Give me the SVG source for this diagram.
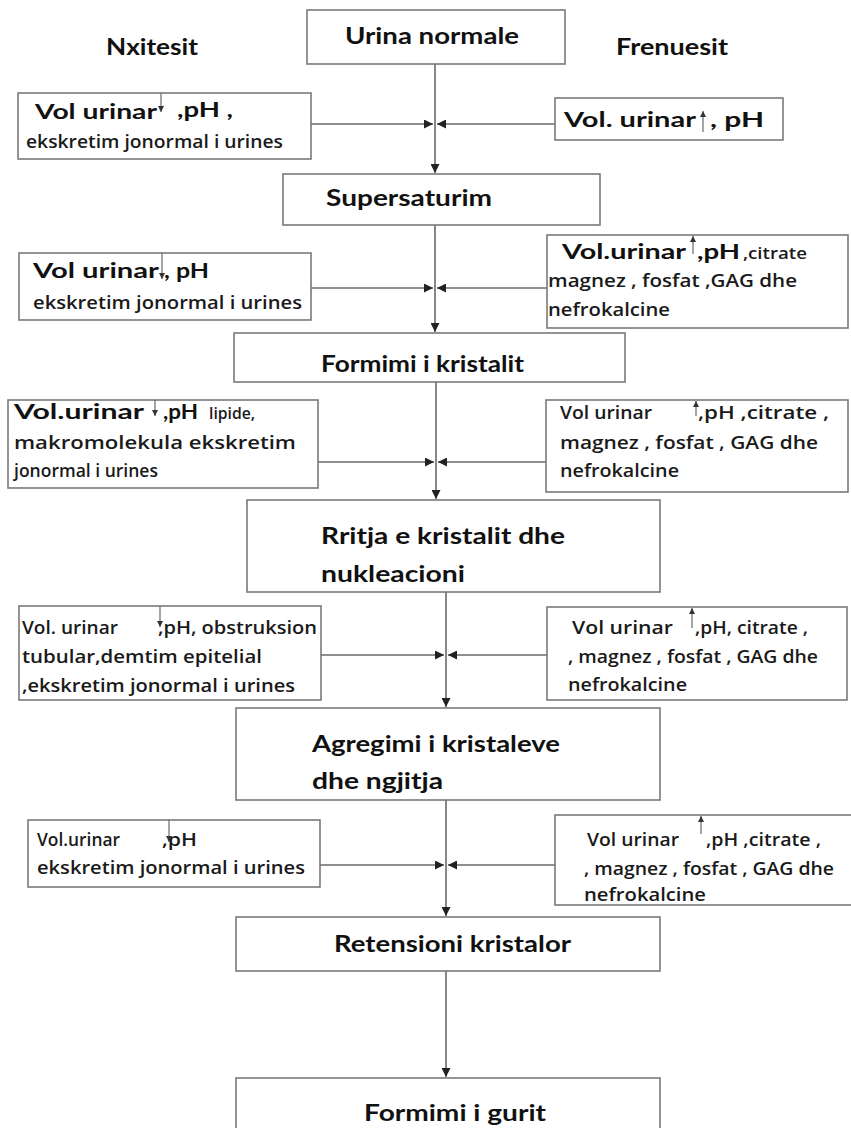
<svg xmlns="http://www.w3.org/2000/svg" width="851" height="1128" viewBox="0 0 851 1128">
<style>
.box{fill:#fff;stroke:#7a7a7a;stroke-width:1.6}
.h{font-family:Lato,"Open Sans","Liberation Sans",sans-serif;font-weight:bold;font-size:22px;fill:#111}
.b{font-family:Lato,"Open Sans","Liberation Sans",sans-serif;font-weight:bold;font-size:21px;fill:#111}
.t{font-family:"Open Sans",Lato,"Liberation Sans",sans-serif;font-weight:600;font-size:18px;fill:#1a1a1a}
.s{font-family:"Open Sans",Lato,"Liberation Sans",sans-serif;font-weight:600;font-size:16px;fill:#1a1a1a}
.ln{stroke:#6a6a6a;stroke-width:1.6;fill:none}
.sm{stroke:#6a6a6a;stroke-width:1.2;fill:none}
</style>
<defs>
<marker id="ah" viewBox="0 0 10 10" refX="10" refY="5" markerWidth="9" markerHeight="9" markerUnits="userSpaceOnUse" orient="auto"><path d="M0,0 L10,5 L0,10 z" fill="#222"/></marker>
<marker id="as" viewBox="0 0 10 10" refX="10" refY="5" markerWidth="6" markerHeight="6" markerUnits="userSpaceOnUse" orient="auto"><path d="M0,0 L10,5 L0,10 z" fill="#333"/></marker>
</defs>

<text class="h" x="106" y="55" textLength="92" lengthAdjust="spacingAndGlyphs">Nxitesit</text>
<text class="h" x="616" y="55" textLength="112" lengthAdjust="spacingAndGlyphs">Frenuesit</text>

<g id="connectors">
<line class="ln" x1="435" y1="64" x2="435" y2="173" marker-end="url(#ah)"/>
<line class="ln" x1="311" y1="124" x2="433" y2="124" marker-end="url(#ah)"/>
<line class="ln" x1="555" y1="124" x2="437" y2="124" marker-end="url(#ah)"/>
<line class="ln" x1="435" y1="225" x2="435" y2="332" marker-end="url(#ah)"/>
<line class="ln" x1="311" y1="288" x2="433" y2="288" marker-end="url(#ah)"/>
<line class="ln" x1="547" y1="288" x2="437" y2="288" marker-end="url(#ah)"/>
<line class="ln" x1="436" y1="382" x2="436" y2="499" marker-end="url(#ah)"/>
<line class="ln" x1="318" y1="462" x2="434" y2="462" marker-end="url(#ah)"/>
<line class="ln" x1="546" y1="462" x2="438" y2="462" marker-end="url(#ah)"/>
<line class="ln" x1="446" y1="592" x2="446" y2="707" marker-end="url(#ah)"/>
<line class="ln" x1="321" y1="655" x2="444" y2="655" marker-end="url(#ah)"/>
<line class="ln" x1="547" y1="655" x2="448" y2="655" marker-end="url(#ah)"/>
<line class="ln" x1="446" y1="800" x2="446" y2="916" marker-end="url(#ah)"/>
<line class="ln" x1="320" y1="865" x2="444" y2="865" marker-end="url(#ah)"/>
<line class="ln" x1="555" y1="865" x2="448" y2="865" marker-end="url(#ah)"/>
<line class="ln" x1="446" y1="971" x2="446" y2="1077" marker-end="url(#ah)"/>
</g>

<g id="urina">
<rect class="box" x="307" y="10" width="258" height="54"/>
<text class="h" x="345" y="44" textLength="174" lengthAdjust="spacingAndGlyphs">Urina normale</text>
</g>

<g id="nx1">
<rect class="box" x="18" y="93" width="293" height="66"/>
<text class="b" y="119"><tspan x="35" textLength="122" lengthAdjust="spacingAndGlyphs">Vol urinar</tspan><tspan x="177" y="117" textLength="56" lengthAdjust="spacingAndGlyphs">,pH ,</tspan></text>
<line class="sm" x1="161" y1="93" x2="161" y2="112" marker-end="url(#as)"/>
<text class="t" x="26" y="148" textLength="257" lengthAdjust="spacingAndGlyphs">ekskretim jonormal i urines</text>
</g>

<g id="fr1">
<rect class="box" x="555" y="98" width="228" height="42"/>
<text class="b" y="127"><tspan x="564" textLength="132" lengthAdjust="spacingAndGlyphs">Vol. urinar</tspan><tspan x="710" textLength="54" lengthAdjust="spacingAndGlyphs">, pH</tspan></text>
<line class="sm" x1="703" y1="132" x2="703" y2="111" marker-end="url(#as)"/>
</g>

<g id="supersaturim">
<rect class="box" x="283" y="174" width="317" height="51"/>
<text class="h" x="326" y="206" textLength="166" lengthAdjust="spacingAndGlyphs">Supersaturim</text>
</g>

<g id="nx2">
<rect class="box" x="19" y="253" width="292" height="67"/>
<text class="b" y="278"><tspan x="33" textLength="126" lengthAdjust="spacingAndGlyphs">Vol urinar</tspan><tspan x="164" textLength="45" lengthAdjust="spacingAndGlyphs">, pH</tspan></text>
<line class="sm" x1="162" y1="253" x2="162" y2="279" marker-end="url(#as)"/>
<text class="t" x="33" y="309" textLength="269" lengthAdjust="spacingAndGlyphs">ekskretim jonormal i urines</text>
</g>

<g id="fr2">
<rect class="box" x="547" y="235" width="301" height="93"/>
<text class="b" y="259"><tspan x="562" textLength="124" lengthAdjust="spacingAndGlyphs">Vol.urinar</tspan><tspan x="697" textLength="43" lengthAdjust="spacingAndGlyphs">,pH</tspan></text>
<text class="s" x="743" y="259" textLength="64" lengthAdjust="spacingAndGlyphs">,citrate</text>
<line class="sm" x1="693" y1="254" x2="693" y2="236" marker-end="url(#as)"/>
<text class="t" x="548" y="287" textLength="249" lengthAdjust="spacingAndGlyphs">magnez , fosfat ,GAG dhe</text>
<text class="t" x="548" y="316" textLength="122" lengthAdjust="spacingAndGlyphs">nefrokalcine</text>
</g>

<g id="formimi-kristalit">
<rect class="box" x="234" y="333" width="391" height="49"/>
<text class="h" x="321" y="372" textLength="203" lengthAdjust="spacingAndGlyphs">Formimi i kristalit</text>
</g>

<g id="nx3">
<rect class="box" x="8" y="400" width="310" height="88"/>
<text class="b" y="419"><tspan x="14" textLength="130" lengthAdjust="spacingAndGlyphs">Vol.urinar</tspan><tspan x="163" textLength="35" lengthAdjust="spacingAndGlyphs">,pH</tspan></text>
<text class="s" x="209" y="419" textLength="46" lengthAdjust="spacingAndGlyphs">lipide,</text>
<line class="sm" x1="155" y1="400" x2="155" y2="416" marker-end="url(#as)"/>
<text class="t" x="14" y="449" textLength="282" lengthAdjust="spacingAndGlyphs">makromolekula ekskretim</text>
<text class="t" x="14" y="477" textLength="144" lengthAdjust="spacingAndGlyphs">jonormal i urines</text>
</g>

<g id="fr3">
<rect class="box" x="546" y="400" width="302" height="92"/>
<text class="t" y="419"><tspan x="560" textLength="92" lengthAdjust="spacingAndGlyphs">Vol urinar</tspan><tspan x="698" textLength="131" lengthAdjust="spacingAndGlyphs">,pH ,citrate ,</tspan></text>
<line class="sm" x1="696" y1="416" x2="696" y2="401" marker-end="url(#as)"/>
<text class="t" x="560" y="449" textLength="258" lengthAdjust="spacingAndGlyphs">magnez , fosfat , GAG dhe</text>
<text class="t" x="560" y="477" textLength="119" lengthAdjust="spacingAndGlyphs">nefrokalcine</text>
</g>

<g id="rritja">
<rect class="box" x="247" y="500" width="413" height="92"/>
<text class="h" x="321" y="544" textLength="244" lengthAdjust="spacingAndGlyphs">Rritja e kristalit dhe</text>
<text class="h" x="321" y="582" textLength="144" lengthAdjust="spacingAndGlyphs">nukleacioni</text>
</g>

<g id="nx4">
<rect class="box" x="19" y="606" width="302" height="94"/>
<text class="t" y="634"><tspan x="22" textLength="96" lengthAdjust="spacingAndGlyphs">Vol. urinar</tspan><tspan x="158" textLength="159" lengthAdjust="spacingAndGlyphs">,pH, obstruksion</tspan></text>
<line class="sm" x1="160" y1="606" x2="160" y2="627" marker-end="url(#as)"/>
<text class="t" x="22" y="663" textLength="240" lengthAdjust="spacingAndGlyphs">tubular,demtim epitelial</text>
<text class="t" x="22" y="692" textLength="273" lengthAdjust="spacingAndGlyphs">,ekskretim jonormal i urines</text>
</g>

<g id="fr4">
<rect class="box" x="547" y="607" width="300" height="93"/>
<text class="t" y="634"><tspan x="572" textLength="101" lengthAdjust="spacingAndGlyphs">Vol urinar</tspan><tspan x="695" textLength="113" lengthAdjust="spacingAndGlyphs">,pH, citrate ,</tspan></text>
<line class="sm" x1="692" y1="628" x2="692" y2="608" marker-end="url(#as)"/>
<text class="t" x="568" y="663" textLength="250" lengthAdjust="spacingAndGlyphs">, magnez , fosfat , GAG dhe</text>
<text class="t" x="568" y="691" textLength="119" lengthAdjust="spacingAndGlyphs">nefrokalcine</text>
</g>

<g id="agregimi">
<rect class="box" x="236" y="708" width="424" height="92"/>
<text class="h" x="312" y="752" textLength="248" lengthAdjust="spacingAndGlyphs">Agregimi i kristaleve</text>
<text class="h" x="312" y="789" textLength="131" lengthAdjust="spacingAndGlyphs">dhe ngjitja</text>
</g>

<g id="nx5">
<rect class="box" x="28" y="820" width="292" height="67"/>
<text class="t" y="846"><tspan x="37" textLength="83" lengthAdjust="spacingAndGlyphs">Vol.urinar</tspan><tspan x="162" textLength="35" lengthAdjust="spacingAndGlyphs">,pH</tspan></text>
<line class="sm" x1="169" y1="820" x2="169" y2="842" marker-end="url(#as)"/>
<text class="t" x="37" y="874" textLength="268" lengthAdjust="spacingAndGlyphs">ekskretim jonormal i urines</text>
</g>

<g id="fr5">
<rect class="box" x="555" y="815" width="300" height="90"/>
<text class="t" y="846"><tspan x="587" textLength="92" lengthAdjust="spacingAndGlyphs">Vol urinar</tspan><tspan x="706" textLength="115" lengthAdjust="spacingAndGlyphs">,pH ,citrate ,</tspan></text>
<line class="sm" x1="701" y1="834" x2="701" y2="816" marker-end="url(#as)"/>
<text class="t" x="584" y="875" textLength="250" lengthAdjust="spacingAndGlyphs">, magnez , fosfat , GAG dhe</text>
<text class="t" x="584" y="901" textLength="122" lengthAdjust="spacingAndGlyphs">nefrokalcine</text>
</g>

<g id="retensioni">
<rect class="box" x="236" y="917" width="424" height="54"/>
<text class="h" x="334" y="952" textLength="237" lengthAdjust="spacingAndGlyphs">Retensioni kristalor</text>
</g>

<g id="formimi-gurit">
<rect class="box" x="236" y="1078" width="424" height="70"/>
<text class="h" x="364" y="1121" textLength="182" lengthAdjust="spacingAndGlyphs">Formimi i gurit</text>
</g>
</svg>
